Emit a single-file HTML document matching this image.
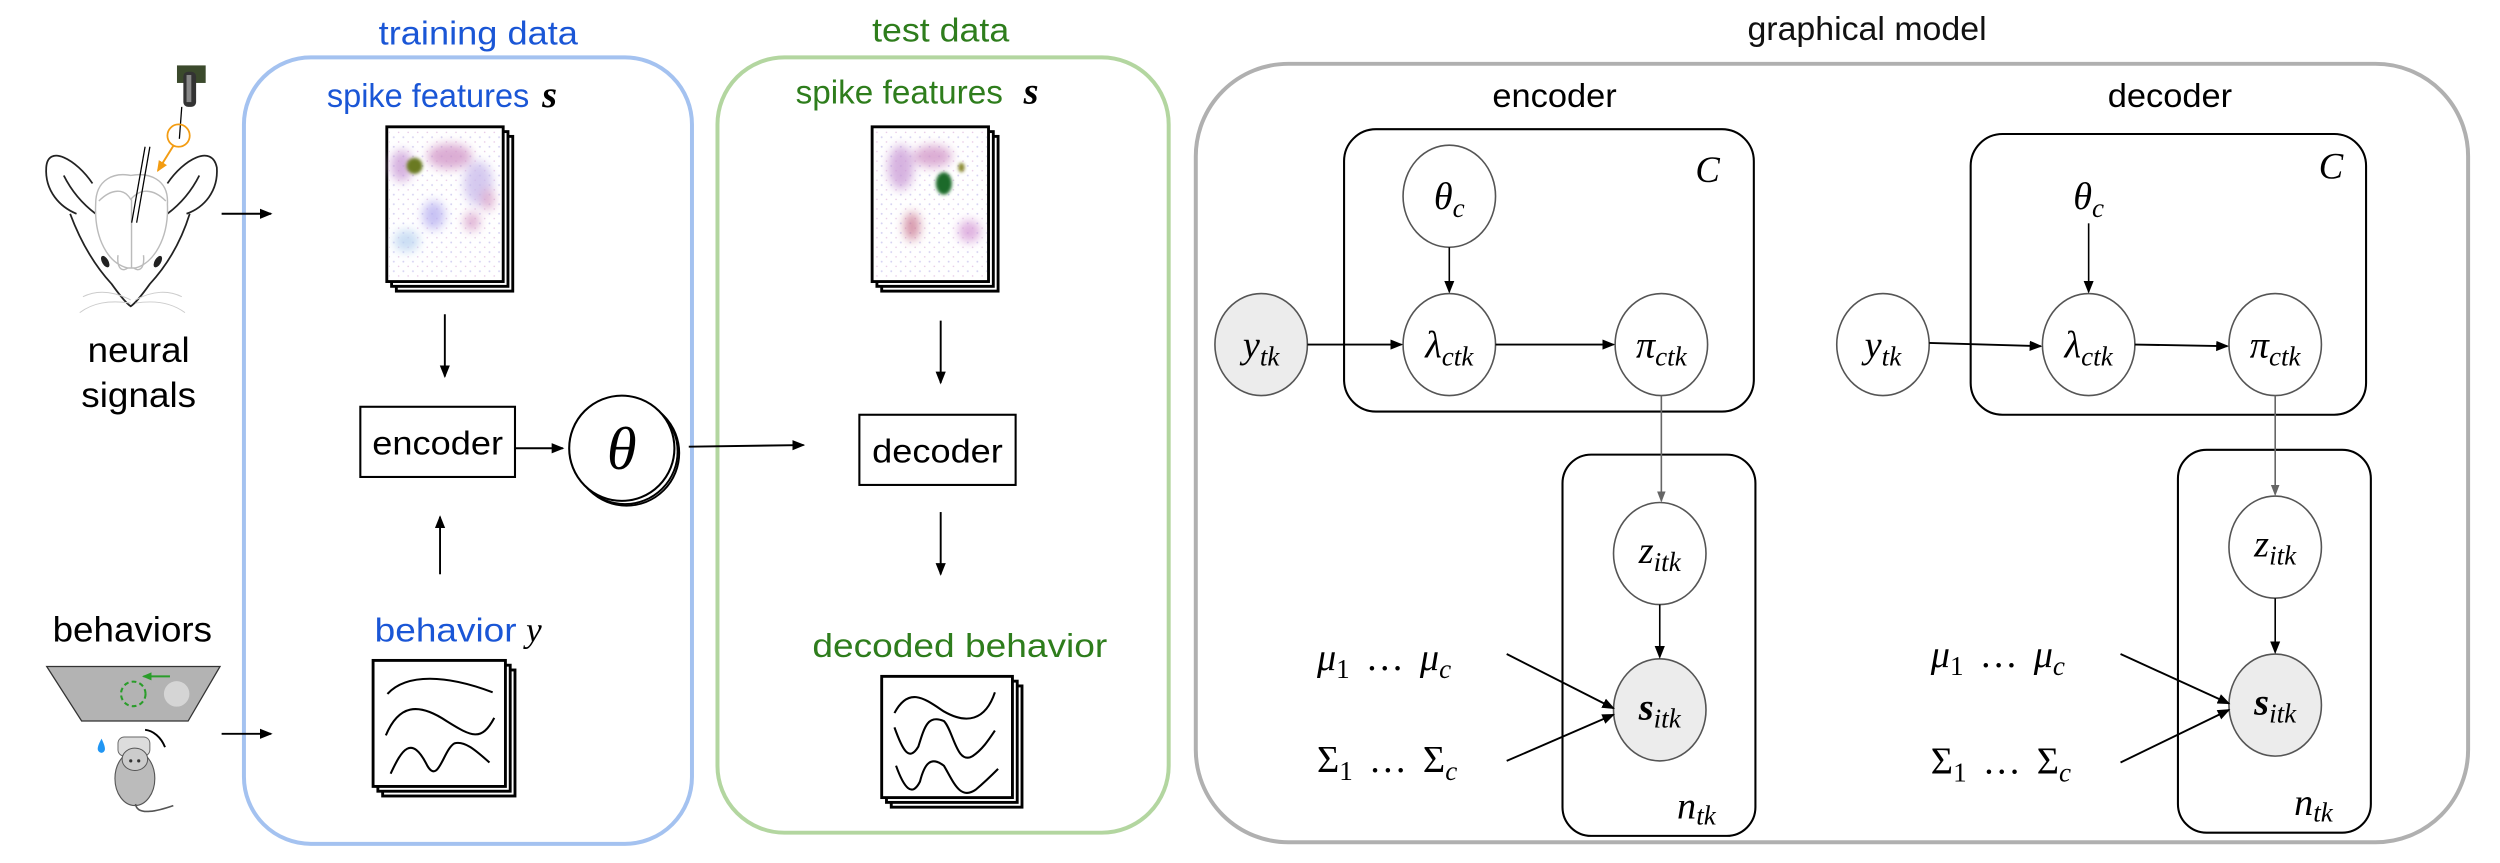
<!DOCTYPE html>
<html><head><meta charset="utf-8"><style>
html,body{margin:0;padding:0;background:#fff;}
svg{display:block;}
.t{font-family:"Liberation Sans",sans-serif;}
.m{font-family:"Liberation Serif",serif;font-style:italic;}
</style></head><body>
<svg width="2500" height="863" viewBox="0 0 1568 541" preserveAspectRatio="none" xmlns="http://www.w3.org/2000/svg">
<defs>
<marker id="ah" markerWidth="8" markerHeight="8" refX="7" refY="4" orient="auto" markerUnits="userSpaceOnUse"><path d="M0,0.8 L8,4 L0,7.2z" fill="#000"/></marker>
<marker id="ahg" markerWidth="7" markerHeight="7" refX="6" refY="3.5" orient="auto" markerUnits="userSpaceOnUse"><path d="M0,0.8 L7,3.5 L0,6.2z" fill="#666"/></marker>
<marker id="aho" markerWidth="7" markerHeight="7" refX="6" refY="3.5" orient="auto" markerUnits="userSpaceOnUse"><path d="M0,0.5 L7,3.5 L0,6.5z" fill="#f39c12"/></marker>
<marker id="ahgr" markerWidth="6" markerHeight="6" refX="5" refY="3" orient="auto" markerUnits="userSpaceOnUse"><path d="M0,0.5 L6,3 L0,5.5z" fill="#2a9d2a"/></marker>
<filter id="bl" x="-50%" y="-50%" width="200%" height="200%"><feGaussianBlur stdDeviation="3"/></filter>
<filter id="bl2" x="-50%" y="-50%" width="200%" height="200%"><feGaussianBlur stdDeviation="1"/></filter>
<pattern id="dots" width="6" height="6" patternUnits="userSpaceOnUse"><circle cx="1" cy="2" r="0.6" fill="#b9b3e8"/><circle cx="4" cy="5" r="0.5" fill="#d7a6d6"/></pattern>
</defs>

<text class="t" x="300" y="28" font-size="21" fill="#1a56d6" text-anchor="middle" textLength="125" lengthAdjust="spacingAndGlyphs">training data</text>
<text class="t" x="590" y="26" font-size="21" fill="#2e7d1c" text-anchor="middle" textLength="86" lengthAdjust="spacingAndGlyphs">test data</text>
<text class="t" x="1171" y="25" font-size="21" fill="#111" text-anchor="middle" textLength="150" lengthAdjust="spacingAndGlyphs">graphical model</text>

<rect x="153" y="36" width="281" height="493" rx="42" fill="none" stroke="#a4c2f0" stroke-width="2.5"/>
<rect x="450" y="36" width="283" height="486" rx="42" fill="none" stroke="#b3d6a0" stroke-width="2.5"/>
<rect x="750" y="40" width="798" height="488" rx="58" fill="none" stroke="#b0b0b0" stroke-width="2.5"/>

<g fill="none" stroke="#222" stroke-width="1.1">
<path d="M58,115 C48,100 30,90 29,105 C28,120 38,130 48,134"/>
<path d="M40,110 C45,120 52,128 60,134"/>
<path d="M105,115 C115,100 133,90 136,105 C137,120 128,130 117,134"/>
<path d="M125,110 C120,120 113,128 105,134"/>
<path d="M44,134 C50,150 58,165 70,178 C75,185 79,190 82,192 C85,190 89,185 94,178 C106,165 114,150 119,134"/>
</g>
<g fill="none" stroke="#bbb" stroke-width="0.9">
<path d="M60,128 C60,112 72,108 82,110 C93,108 106,112 105,128 C106,150 96,165 85,168 L80,168 C68,165 59,150 60,128z"/>
<line x1="82.5" y1="125" x2="82.5" y2="168"/>
<path d="M74,160 C73,170 78,170 80,168 M90,160 C91,170 86,170 84,168"/>
<path d="M62,126 C70,118 78,118 82,125 C88,118 96,118 104,126"/>
</g>
<g stroke="#ccc" stroke-width="0.6" fill="none">
<path d="M82,188 C70,182 60,182 52,186 M82,190 C68,188 58,190 50,196 M85,188 C96,182 106,182 114,186 M85,190 C98,188 108,190 116,196"/>
</g>
<ellipse cx="66" cy="164" rx="2" ry="4" fill="#222" transform="rotate(-30 66 164)"/>
<ellipse cx="99" cy="164" rx="2" ry="4" fill="#222" transform="rotate(30 99 164)"/>
<line x1="82.6" y1="139.6" x2="91" y2="92" stroke="#000" stroke-width="0.8"/>
<line x1="85.7" y1="139.6" x2="94" y2="92" stroke="#000" stroke-width="0.8"/>
<rect x="111" y="41" width="18" height="11" fill="#3b4a2c"/>
<rect x="115" y="45" width="8" height="22" rx="3" fill="#333"/>
<rect x="117" y="47" width="3" height="17" fill="#888"/>
<line x1="114" y1="67" x2="112.5" y2="87" stroke="#000" stroke-width="0.8"/>
<circle cx="112" cy="85" r="7" fill="none" stroke="#f39c12" stroke-width="1.1"/>
<line x1="109" y1="91" x2="99" y2="107" stroke="#f39c12" stroke-width="1.2" marker-end="url(#aho)"/>
<text class="t" x="87" y="227" font-size="22" text-anchor="middle" textLength="64" lengthAdjust="spacingAndGlyphs">neural</text>
<text class="t" x="87" y="255" font-size="22" text-anchor="middle" textLength="72" lengthAdjust="spacingAndGlyphs">signals</text>
<line x1="139" y1="134" x2="170" y2="134" stroke="#000" stroke-width="1.2" marker-end="url(#ah)"/>

<text class="t" x="83" y="402" font-size="22" text-anchor="middle" textLength="100" lengthAdjust="spacingAndGlyphs">behaviors</text>
<path d="M29.3,417.8 L138,417.8 L118,452 L51.2,452z" fill="#b3b3b3" stroke="#333" stroke-width="0.8"/>
<circle cx="83.6" cy="435" r="7.7" fill="none" stroke="#2a9d2a" stroke-width="1.3" stroke-dasharray="3,2"/>
<line x1="106.6" y1="424" x2="90" y2="424" stroke="#2a9d2a" stroke-width="1.2" marker-end="url(#ahgr)"/>
<circle cx="110.8" cy="435" r="8" fill="#d5d5d5"/>
<path d="M63.7,463 C61,468 60,471 63.7,472 C67,471 66,468 63.7,463z" fill="#2196f3"/>
<path d="M91,457.5 C96,458 101,462 103.5,468.4" fill="none" stroke="#000" stroke-width="1.2"/>
<rect x="74" y="462" width="20" height="12" rx="4" fill="#ddd" stroke="#666" stroke-width="0.6"/>
<ellipse cx="84.6" cy="488" rx="12.5" ry="17" fill="#bbb" stroke="#555" stroke-width="0.7"/>
<ellipse cx="84.6" cy="476" rx="8" ry="7" fill="#ccc" stroke="#555" stroke-width="0.6"/>
<circle cx="82" cy="477" r="1" fill="#333"/><circle cx="87" cy="477" r="1" fill="#333"/>
<path d="M85,504 C86,512 100,508 108.7,505" fill="none" stroke="#555" stroke-width="1"/>
<line x1="139" y1="460" x2="170" y2="460" stroke="#000" stroke-width="1.2" marker-end="url(#ah)"/>

<text x="205" y="67" font-size="21" fill="#1a56d6"><tspan class="t" textLength="127" lengthAdjust="spacingAndGlyphs">spike features</tspan><tspan class="m" font-weight="bold" fill="#000" font-size="24" dx="8">s</tspan></text>
<g stroke="#000" stroke-width="1.8" fill="#fff">
<rect x="248.6" y="85.5" width="73" height="97"/>
<rect x="245.6" y="82.5" width="73" height="97"/>
<rect x="242.6" y="79.5" width="73" height="97"/>
</g>
<rect x="244" y="81" width="70" height="94" fill="url(#dots)" opacity="0.6"/>
<g filter="url(#bl)" opacity="0.75">
<ellipse cx="252" cy="104" rx="7" ry="10" fill="#c99ad6"/>
<ellipse cx="282" cy="98" rx="14" ry="8" fill="#d093c6"/>
<ellipse cx="300" cy="115" rx="9" ry="14" fill="#c7b8ea"/>
<ellipse cx="272" cy="135" rx="7" ry="9" fill="#b6aef0"/>
<ellipse cx="255" cy="151" rx="8" ry="7" fill="#b9d3f0"/>
<ellipse cx="296" cy="139" rx="5" ry="6" fill="#d59ac6"/>
<ellipse cx="306" cy="125" rx="4" ry="7" fill="#d497c2"/>
</g>
<ellipse cx="260" cy="104" rx="5" ry="5" fill="#6a7a20" filter="url(#bl2)"/>
<line x1="279" y1="197" x2="279" y2="236" stroke="#000" stroke-width="1.2" marker-end="url(#ah)"/>
<rect x="226" y="255" width="97" height="44" fill="#fff" stroke="#000" stroke-width="1.3"/>
<text class="t" x="274.5" y="285" font-size="21" text-anchor="middle" textLength="82" lengthAdjust="spacingAndGlyphs">encoder</text>
<line x1="323" y1="281" x2="353" y2="281" stroke="#000" stroke-width="1.2" marker-end="url(#ah)"/>
<circle cx="393" cy="284" r="33" fill="#fff" stroke="#000" stroke-width="1.2"/>
<circle cx="392" cy="283" r="33" fill="#fff" stroke="#000" stroke-width="1.2"/>
<circle cx="390" cy="281" r="33" fill="#fff" stroke="#000" stroke-width="1.3"/>
<text class="m" x="390" y="294" font-size="38" text-anchor="middle">θ</text>
<line x1="432" y1="280" x2="504" y2="279" stroke="#000" stroke-width="1.2" marker-end="url(#ah)"/>
<line x1="276" y1="360" x2="276" y2="324" stroke="#000" stroke-width="1.2" marker-end="url(#ah)"/>
<text x="235" y="402" font-size="21" fill="#1a56d6"><tspan class="t" textLength="89" lengthAdjust="spacingAndGlyphs">behavior</tspan><tspan class="m" fill="#000" font-size="22" dx="6">y</tspan></text>
<g stroke="#000" stroke-width="1.8" fill="#fff">
<rect x="240" y="420" width="83" height="79"/>
<rect x="237" y="417" width="83" height="79"/>
<rect x="234" y="414" width="83" height="79"/>
</g>
<g fill="none" stroke="#000" stroke-width="1.3">
<path d="M243,435 C255,422 280,423 309,434"/>
<path d="M242,461 C250,442 262,440 280,452 C296,462 302,465 310,450"/>
<path d="M245,485 C252,470 258,460 268,480 C275,492 278,470 285,466 C292,464 300,472 307,478"/>
</g>

<text x="499" y="65" font-size="21" fill="#2e7d1c"><tspan class="t" textLength="130" lengthAdjust="spacingAndGlyphs">spike features</tspan><tspan class="m" font-weight="bold" fill="#000" font-size="24" dx="13">s</tspan></text>
<g stroke="#000" stroke-width="1.8" fill="#fff">
<rect x="553" y="85.5" width="73" height="97"/>
<rect x="550" y="82.5" width="73" height="97"/>
<rect x="547" y="79.5" width="73" height="97"/>
</g>
<rect x="549" y="81" width="70" height="94" fill="url(#dots)" opacity="0.6"/>
<g filter="url(#bl)" opacity="0.75">
<ellipse cx="565" cy="105" rx="8" ry="14" fill="#c99ad6"/>
<ellipse cx="585" cy="98" rx="12" ry="7" fill="#d093c6"/>
<ellipse cx="572" cy="142" rx="5" ry="9" fill="#c9748f"/>
<ellipse cx="608" cy="145" rx="7" ry="7" fill="#d59ad6"/>
</g>
<ellipse cx="592" cy="115" rx="5" ry="7" fill="#1d6b2a" filter="url(#bl2)"/>
<ellipse cx="603" cy="105" rx="2" ry="3" fill="#8a8a30" filter="url(#bl2)"/>
<line x1="590" y1="201" x2="590" y2="240" stroke="#000" stroke-width="1.2" marker-end="url(#ah)"/>
<rect x="539" y="260" width="98" height="44" fill="#fff" stroke="#000" stroke-width="1.3"/>
<text class="t" x="588" y="290" font-size="21" text-anchor="middle" textLength="82" lengthAdjust="spacingAndGlyphs">decoder</text>
<line x1="590" y1="321" x2="590" y2="360" stroke="#000" stroke-width="1.2" marker-end="url(#ah)"/>
<text class="t" x="602" y="412" font-size="21" fill="#2e7d1c" text-anchor="middle" textLength="185" lengthAdjust="spacingAndGlyphs">decoded behavior</text>
<g stroke="#000" stroke-width="1.8" fill="#fff">
<rect x="559" y="430" width="82" height="76"/>
<rect x="556" y="427" width="82" height="76"/>
<rect x="553" y="424" width="82" height="76"/>
</g>
<g fill="none" stroke="#000" stroke-width="1.3">
<path d="M561,447 C570,430 580,438 592,446 C606,454 618,452 624,434"/>
<path d="M561,456 C566,470 570,478 576,468 C580,455 582,448 592,452 C598,458 600,480 610,474 C616,470 620,464 624,458"/>
<path d="M562,480 C567,494 572,500 577,490 C580,478 584,474 592,480 C598,490 602,502 612,495 C618,490 622,486 626,482"/>
</g>

<text class="t" x="975" y="67" font-size="21" text-anchor="middle" textLength="78" lengthAdjust="spacingAndGlyphs">encoder</text>
<text class="t" x="1361" y="67" font-size="21" text-anchor="middle" textLength="78" lengthAdjust="spacingAndGlyphs">decoder</text>

<!-- Encoder GM -->
<rect x="843" y="81" width="257" height="177" rx="20" fill="none" stroke="#000" stroke-width="1.3"/>
<text class="m" x="1071" y="114" font-size="23" text-anchor="middle">C</text>
<rect x="980" y="285" width="121" height="239" rx="18" fill="none" stroke="#000" stroke-width="1.3"/>
<text class="m" x="1064" y="513" font-size="24" text-anchor="middle">n<tspan font-size="17" dy="4">tk</tspan></text>
<g stroke="#555" stroke-width="1">
<ellipse cx="909" cy="123" rx="29" ry="32" fill="#fff"/>
<ellipse cx="909" cy="216" rx="29" ry="32" fill="#fff"/>
<ellipse cx="1042" cy="216" rx="29" ry="32" fill="#fff"/>
<ellipse cx="791" cy="216" rx="29" ry="32" fill="#ececec"/>
<ellipse cx="1041" cy="347" rx="29" ry="32" fill="#fff"/>
<ellipse cx="1041" cy="445" rx="29" ry="32" fill="#ececec"/>
</g>
<line x1="909" y1="155" x2="909" y2="183" stroke="#000" stroke-width="1" marker-end="url(#ah)"/>
<line x1="820" y1="216" x2="879" y2="216" stroke="#000" stroke-width="1.2" marker-end="url(#ah)"/>
<line x1="938" y1="216" x2="1012" y2="216" stroke="#000" stroke-width="1.2" marker-end="url(#ah)"/>
<line x1="1042" y1="248" x2="1042" y2="314" stroke="#666" stroke-width="1" marker-end="url(#ahg)"/>
<line x1="1041" y1="379" x2="1041" y2="412" stroke="#000" stroke-width="1" marker-end="url(#ah)"/>
<line x1="945" y1="410" x2="1012" y2="444" stroke="#000" stroke-width="1.2" marker-end="url(#ah)"/>
<line x1="945" y1="477" x2="1012" y2="448" stroke="#000" stroke-width="1.2" marker-end="url(#ah)"/>
<g class="m" font-size="24" text-anchor="middle">
<text x="909" y="131">θ<tspan font-size="17" dy="5">c</tspan></text>
<text x="909" y="224">λ<tspan font-size="17" dy="5">ctk</tspan></text>
<text x="1042" y="224">π<tspan font-size="17" dy="5">ctk</tspan></text>
<text x="791" y="224">y<tspan font-size="17" dy="5">tk</tspan></text>
<text x="1041" y="353">z<tspan font-size="17" dy="5">itk</tspan></text>
<text x="1041" y="451" font-weight="bold">s<tspan font-size="17" dy="5" font-weight="normal">itk</tspan></text>
</g>
<text class="m" x="826" y="420" font-size="24">μ<tspan font-size="17" dy="5" font-style="normal">1</tspan><tspan font-style="normal" dy="-5" dx="10">…</tspan><tspan dx="10">μ</tspan><tspan font-size="17" dy="5">c</tspan></text>
<text x="826" y="484" font-size="24" font-family="Liberation Serif">Σ<tspan font-size="17" dy="5">1</tspan><tspan dy="-5" dx="10">…</tspan><tspan dx="10">Σ</tspan><tspan font-size="17" dy="5" font-style="italic">c</tspan></text>

<!-- Decoder GM -->
<rect x="1236" y="84" width="248" height="176" rx="20" fill="none" stroke="#000" stroke-width="1.3"/>
<text class="m" x="1462" y="112" font-size="23" text-anchor="middle">C</text>
<rect x="1366" y="282" width="121" height="240" rx="18" fill="none" stroke="#000" stroke-width="1.3"/>
<text class="m" x="1451" y="511" font-size="24" text-anchor="middle">n<tspan font-size="17" dy="4">tk</tspan></text>
<g stroke="#555" stroke-width="1">
<ellipse cx="1310" cy="216" rx="29" ry="32" fill="#fff"/>
<ellipse cx="1427" cy="216" rx="29" ry="32" fill="#fff"/>
<ellipse cx="1181" cy="216" rx="29" ry="32" fill="#fff"/>
<ellipse cx="1427" cy="343" rx="29" ry="32" fill="#fff"/>
<ellipse cx="1427" cy="442" rx="29" ry="32" fill="#ececec"/>
</g>
<line x1="1310" y1="140" x2="1310" y2="183" stroke="#000" stroke-width="1" marker-end="url(#ah)"/>
<line x1="1210" y1="215" x2="1280" y2="217" stroke="#000" stroke-width="1.2" marker-end="url(#ah)"/>
<line x1="1339" y1="216" x2="1397" y2="217" stroke="#000" stroke-width="1.2" marker-end="url(#ah)"/>
<line x1="1427" y1="248" x2="1427" y2="310" stroke="#666" stroke-width="1" marker-end="url(#ahg)"/>
<line x1="1427" y1="375" x2="1427" y2="409" stroke="#000" stroke-width="1" marker-end="url(#ah)"/>
<line x1="1330" y1="410" x2="1398" y2="441" stroke="#000" stroke-width="1.2" marker-end="url(#ah)"/>
<line x1="1330" y1="478" x2="1398" y2="445" stroke="#000" stroke-width="1.2" marker-end="url(#ah)"/>
<g class="m" font-size="24" text-anchor="middle">
<text x="1310" y="131">θ<tspan font-size="17" dy="5">c</tspan></text>
<text x="1310" y="224">λ<tspan font-size="17" dy="5">ctk</tspan></text>
<text x="1427" y="224">π<tspan font-size="17" dy="5">ctk</tspan></text>
<text x="1181" y="224">y<tspan font-size="17" dy="5">tk</tspan></text>
<text x="1427" y="349">z<tspan font-size="17" dy="5">itk</tspan></text>
<text x="1427" y="448" font-weight="bold">s<tspan font-size="17" dy="5" font-weight="normal">itk</tspan></text>
</g>
<text class="m" x="1211" y="418" font-size="24">μ<tspan font-size="17" dy="5" font-style="normal">1</tspan><tspan font-style="normal" dy="-5" dx="10">…</tspan><tspan dx="10">μ</tspan><tspan font-size="17" dy="5">c</tspan></text>
<text x="1211" y="485" font-size="24" font-family="Liberation Serif">Σ<tspan font-size="17" dy="5">1</tspan><tspan dy="-5" dx="10">…</tspan><tspan dx="10">Σ</tspan><tspan font-size="17" dy="5" font-style="italic">c</tspan></text>
</svg>
</body></html>
